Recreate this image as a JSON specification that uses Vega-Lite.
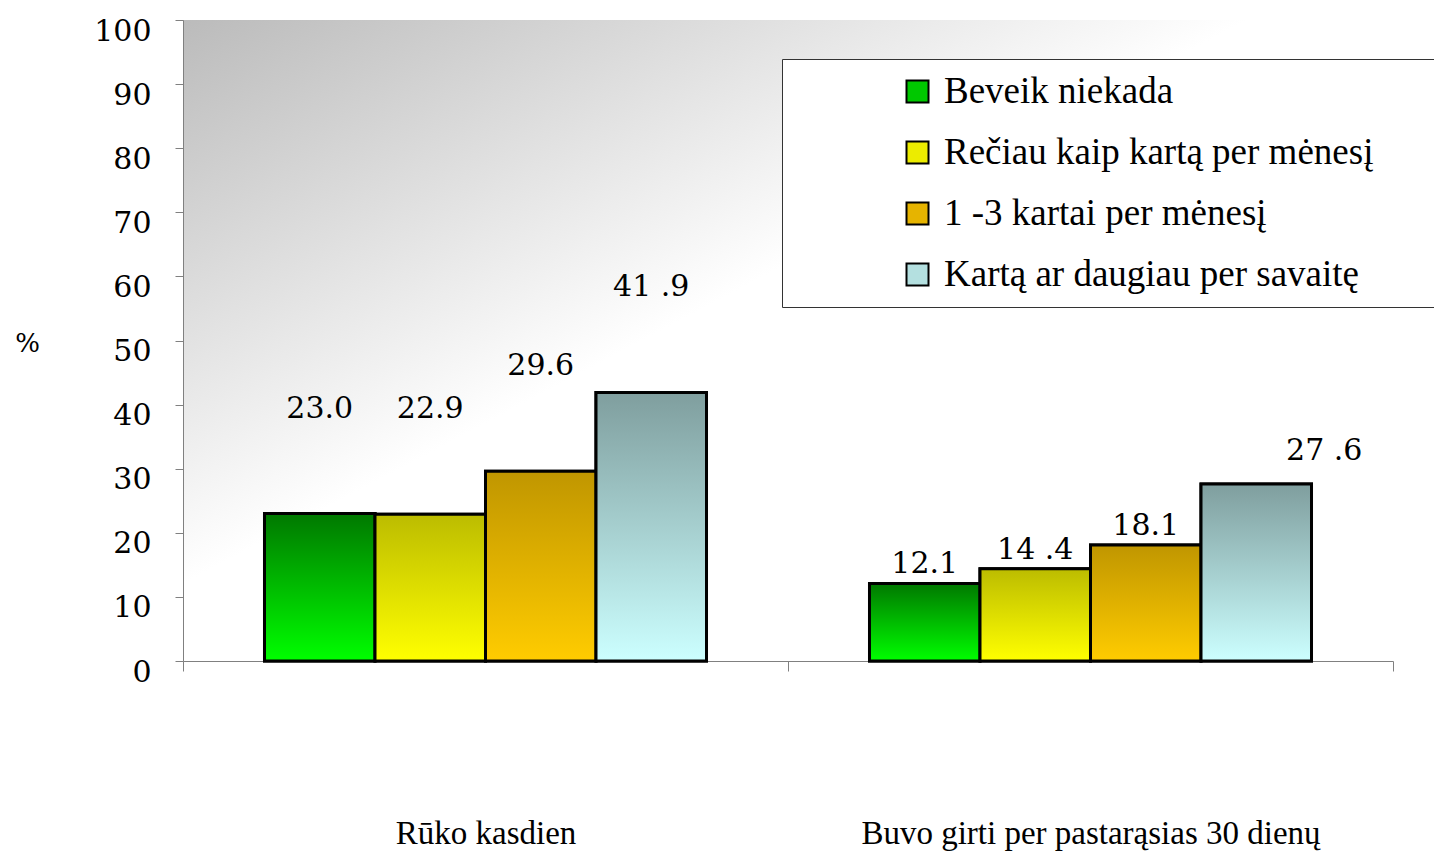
{
  "$schema": "https://vega.github.io/schema/vega-lite/v6.json",
  "width": 1210,
  "height": 641,
  "autosize": {"type": "none"},
  "padding": {"left": 183, "top": 20, "right": 41, "bottom": 193},
  "background": "white",
  "config": {
    "view": {
      "stroke": null,
      "fill": {"gradient": "linear", "x1": 0, "y1": 0, "x2": 0.44, "y2": 0.44,
        "stops": [{"offset": 0, "color": "#bbbbbb"}, {"offset": 1, "color": "#ffffff"}]}
    }
  },
  "data": {
    "values": [
      {"group": "Rūko kasdien", "series": "Beveik niekada", "value": 23.0, "label": "23.0"},
      {"group": "Rūko kasdien", "series": "Rečiau kaip kartą per mėnesį", "value": 22.9, "label": "22.9"},
      {"group": "Rūko kasdien", "series": "1 -3 kartai per mėnesį", "value": 29.6, "label": "29.6"},
      {"group": "Rūko kasdien", "series": "Kartą ar daugiau per savaitę", "value": 41.9, "label": "41 .9"},
      {"group": "Buvo girti per pastarąsias 30 dienų", "series": "Beveik niekada", "value": 12.1, "label": "12.1"},
      {"group": "Buvo girti per pastarąsias 30 dienų", "series": "Rečiau kaip kartą per mėnesį", "value": 14.4, "label": "14 .4"},
      {"group": "Buvo girti per pastarąsias 30 dienų", "series": "1 -3 kartai per mėnesį", "value": 18.1, "label": "18.1"},
      {"group": "Buvo girti per pastarąsias 30 dienų", "series": "Kartą ar daugiau per savaitę", "value": 27.6, "label": "27 .6"}
    ]
  },
  "encoding": {
    "x": {
      "field": "group", "type": "nominal",
      "sort": ["Rūko kasdien", "Buvo girti per pastarąsias 30 dienų"],
      "scale": {"paddingInner": 0, "paddingOuter": 0},
      "axis": {
        "title": null, "labelAngle": 0, "labelFont": "Liberation Serif", "labelFontSize": 33,
        "labelColor": "black", "labelPadding": 162, "labelBaseline": "middle", "labelLimit": 0,
        "tickBand": "extent", "tickSize": 10, "tickColor": "#808080", "domainColor": "#808080"
      }
    },
    "xOffset": {
      "field": "series", "type": "nominal",
      "sort": ["Beveik niekada", "Rečiau kaip kartą per mėnesį", "1 -3 kartai per mėnesį", "Kartą ar daugiau per savaitę"],
      "scale": {"paddingInner": 0, "paddingOuter": 0.7375}
    },
    "y": {
      "field": "value", "type": "quantitative",
      "scale": {"domain": [0, 100], "nice": false},
      "axis": {
        "title": "%", "titleAngle": 0, "titleX": -156, "titleY": 323, "titleAlign": "center",
        "titleBaseline": "middle", "titleFont": "DejaVu Serif", "titleFontSize": 26,
        "titleFontWeight": "normal", "titleColor": "black",
        "values": [0, 10, 20, 30, 40, 50, 60, 70, 80, 90, 100],
        "labelFont": "DejaVu Serif", "labelFontSize": 30, "labelColor": "black",
        "labelPadding": 24, "labelOffset": 11, "tickSize": 8, "tickColor": "#808080",
        "domainColor": "#808080", "grid": false
      }
    }
  },
  "layer": [
    {
      "mark": {"type": "bar", "stroke": "black", "strokeWidth": 3},
      "encoding": {
        "fill": {
          "field": "series", "type": "nominal",
          "scale": {
            "domain": ["Beveik niekada", "Rečiau kaip kartą per mėnesį", "1 -3 kartai per mėnesį", "Kartą ar daugiau per savaitę"],
            "range": ["#00c800", "#ecec00", "#e6b400", "#b4e0e0"]
          },
          "legend": {
            "title": "\u00a0", "orient": "none", "legendX": 599, "legendY": 39,
            "titleOrient": "right", "titlePadding": 48,
            "labelFont": "Liberation Serif", "labelFontSize": 37, "labelColor": "black", "labelLimit": 0,
            "symbolType": "square", "symbolSize": 484, "symbolStrokeColor": "black", "symbolStrokeWidth": 2,
            "symbolOffset": 103, "labelOffset": 8, "rowPadding": 23, "padding": 14,
            "fillColor": "white", "strokeColor": "#333333"
          }
        }
      }
    },
    {
      "transform": [{"filter": "datum.series === 'Beveik niekada'"}],
      "mark": {"type": "bar", "stroke": "black", "strokeWidth": 3,
        "fill": {"gradient": "linear", "x1": 0, "y1": 0, "x2": 0, "y2": 1, "stops": [{"offset": 0, "color": "#007800"}, {"offset": 1, "color": "#00ff00"}]}},
      "encoding": {}
    },
    {
      "transform": [{"filter": "datum.series === 'Rečiau kaip kartą per mėnesį'"}],
      "mark": {"type": "bar", "stroke": "black", "strokeWidth": 3,
        "fill": {"gradient": "linear", "x1": 0, "y1": 0, "x2": 0, "y2": 1, "stops": [{"offset": 0, "color": "#bcbc00"}, {"offset": 1, "color": "#ffff00"}]}},
      "encoding": {}
    },
    {
      "transform": [{"filter": "datum.series === '1 -3 kartai per mėnesį'"}],
      "mark": {"type": "bar", "stroke": "black", "strokeWidth": 3,
        "fill": {"gradient": "linear", "x1": 0, "y1": 0, "x2": 0, "y2": 1, "stops": [{"offset": 0, "color": "#c09600"}, {"offset": 1, "color": "#ffcc00"}]}},
      "encoding": {}
    },
    {
      "transform": [{"filter": "datum.series === 'Kartą ar daugiau per savaitę'"}],
      "mark": {"type": "bar", "stroke": "black", "strokeWidth": 3,
        "fill": {"gradient": "linear", "x1": 0, "y1": 0, "x2": 0, "y2": 1, "stops": [{"offset": 0, "color": "#7f9e9e"}, {"offset": 1, "color": "#ccffff"}]}},
      "encoding": {}
    },
    {
      "transform": [{"filter": "datum.group === 'Rūko kasdien'"}],
      "mark": {"type": "text", "font": "DejaVu Serif", "fontSize": 30, "color": "black", "baseline": "middle", "dy": -105},
      "encoding": {"text": {"field": "label"}}
    },
    {
      "transform": [{"filter": "datum.group !== 'Rūko kasdien' && datum.value !== 27.6"}],
      "mark": {"type": "text", "font": "DejaVu Serif", "fontSize": 30, "color": "black", "baseline": "middle", "dy": -19},
      "encoding": {"text": {"field": "label"}}
    },
    {
      "transform": [{"filter": "datum.value === 27.6"}],
      "mark": {"type": "text", "font": "DejaVu Serif", "fontSize": 30, "color": "black", "baseline": "middle", "dy": -33, "dx": 68},
      "encoding": {"text": {"field": "label"}}
    }
  ]
}
